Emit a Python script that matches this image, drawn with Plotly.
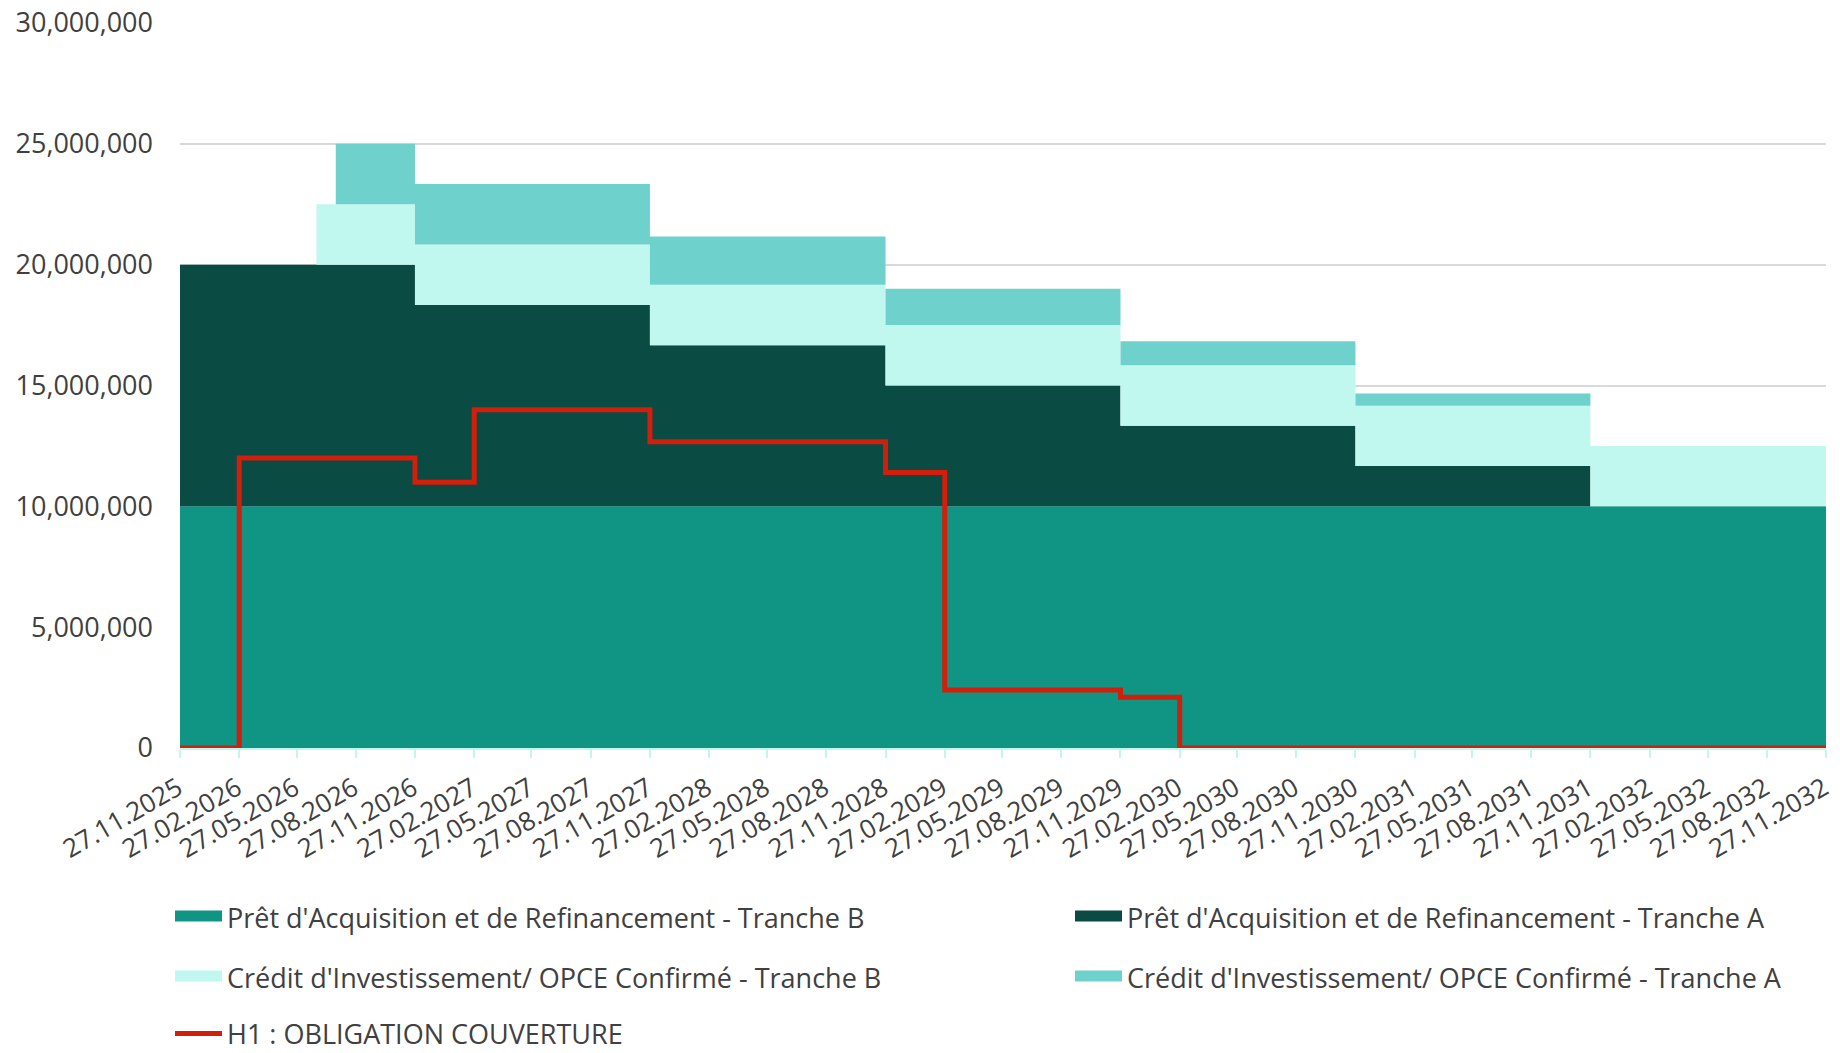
import plotly.graph_objects as go

# dates where a value changes (step chart, value holds until next date)
dates = ["2025-11-27", "2026-02-27", "2026-06-27", "2026-07-27", "2026-11-27",
         "2027-02-27", "2027-11-27", "2028-11-27", "2029-02-27", "2029-11-27",
         "2030-02-27", "2030-11-27", "2031-11-27", "2032-11-27"]

pret_b = [10000000, 10000000, 10000000, 10000000, 10000000, 10000000, 10000000,
          10000000, 10000000, 10000000, 10000000, 10000000, 10000000, 10000000]
pret_a = [10000000, 10000000, 10000000, 10000000, 8333333, 8333333, 6666667,
          5000000, 5000000, 3333333, 3333333, 1666667, 0, 0]
credit_b = [0, 0, 2500000, 2500000, 2500000, 2500000, 2500000,
            2500000, 2500000, 2500000, 2500000, 2500000, 2500000, 2500000]
credit_a = [0, 0, 0, 2500000, 2500000, 2500000, 2000000,
            1500000, 1500000, 1000000, 1000000, 500000, 0, 0]
h1 = [0, 12000000, 12000000, 12000000, 11000000, 14000000, 12670000,
      11400000, 2400000, 2100000, 0, 0, 0, 0]

tick_dates = ["2025-11-27", "2026-02-27", "2026-05-27", "2026-08-27", "2026-11-27",
              "2027-02-27", "2027-05-27", "2027-08-27", "2027-11-27",
              "2028-02-27", "2028-05-27", "2028-08-27", "2028-11-27",
              "2029-02-27", "2029-05-27", "2029-08-27", "2029-11-27",
              "2030-02-27", "2030-05-27", "2030-08-27", "2030-11-27",
              "2031-02-27", "2031-05-27", "2031-08-27", "2031-11-27",
              "2032-02-27", "2032-05-27", "2032-08-27", "2032-11-27"]

names = ["Prêt d'Acquisition et de Refinancement - Tranche B",
         "Prêt d'Acquisition et de Refinancement - Tranche A",
         "Crédit d'Investissement/ OPCE Confirmé - Tranche B",
         "Crédit d'Investissement/ OPCE Confirmé - Tranche A",
         "H1 : OBLIGATION COUVERTURE"]

colors = ["#109585", "#0A4B44", "#C0F8F0", "#6FD1CB", "#D21E0A"]
font = dict(family="Open Sans", size=27, color="#404040")
xfont = dict(family="Open Sans", size=26, color="#404040")

# plot area in pixels
L, R, T, B = 180, 1826, 23, 748
W, H = 1840, 1053


def px_x(p):
    return (p - L) / (R - L)


def px_y(p):
    return (B - p) / (B - T)


fig = go.Figure()
series = [pret_b, pret_a, credit_b, credit_a]
legs = ["legend", "legend2", "legend3", "legend4"]
for i in range(4):
    fig.add_trace(go.Scatter(x=dates, y=series[i], name=names[i], mode="lines",
                             line=dict(shape="hv", width=0, color=colors[i]),
                             fillcolor=colors[i], stackgroup="one",
                             showlegend=False))
    # legend-only entry so the swatch is a block like the original
    fig.add_trace(go.Scatter(x=[None], y=[None], name=names[i], mode="lines",
                             line=dict(width=10, color=colors[i]),
                             fill="toself", fillcolor=colors[i],
                             legend=legs[i], hoverinfo="skip"))

fig.add_trace(go.Scatter(x=dates, y=h1, name=names[4], mode="lines",
                         line=dict(shape="hv", width=5, color=colors[4]),
                         legend="legend5"))


def leg(x, y):
    return dict(x=px_x(x), y=px_y(y), xanchor="left", yanchor="middle",
                orientation="h", font=font, itemwidth=47,
                bgcolor="rgba(0,0,0,0)")


fig.update_layout(
    width=W, height=H,
    margin=dict(l=L, r=W - R, t=T, b=H - B, autoexpand=False),
    paper_bgcolor="white", plot_bgcolor="white",
    font=font, showlegend=True,
    legend=leg(170, 918),
    legend2=leg(1070, 918),
    legend3=leg(170, 978),
    legend4=leg(1070, 978),
    legend5=leg(170, 1034),
    xaxis=dict(type="date", range=[dates[0], dates[-1]],
               tickvals=tick_dates, tickformat="%d.%m.%Y", tickangle=-30,
               ticks="outside", ticklen=8, tickwidth=2, tickcolor="#C0F8F0",
               showline=True, linecolor="#C0F8F0", linewidth=2,
               showgrid=False, tickfont=xfont, ticklabelstandoff=5,
               ticklabelshift=-2),
    yaxis=dict(range=[0, 30000000], dtick=5000000, tickformat=",",
               showgrid=True, gridcolor="#D9D9D9", gridwidth=1.5,
               zeroline=False, showline=False, ticks="",
               ticklabelstandoff=26, tickfont=font),
)

# page body has a default 8px margin; drop it so the figure fills the window
fig.write_html("out.html", config={"displayModeBar": False},
               post_script="document.body.style.margin='0';")
